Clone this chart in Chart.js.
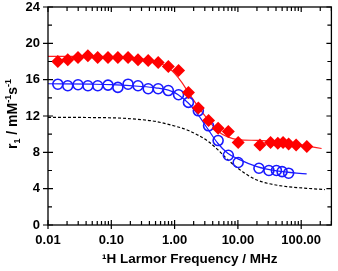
<!DOCTYPE html>
<html>
<head>
<meta charset="utf-8">
<script src="https://cdn.jsdelivr.net/npm/chart.js@4.4.1/dist/chart.umd.min.js"></script>
<style>
  html, body { margin: 0; padding: 0; background: #fff; }
  #wrap { width: 338px; height: 271px; }
</style>
</head>
<body>
<div id="wrap"><canvas id="myChart" width="338" height="271"></canvas></div>
<script>
// measured points (MHz, r1)
var redFreq = [0.0143, 0.0205, 0.0298, 0.0427, 0.061, 0.0887, 0.127, 0.184, 0.264, 0.383, 0.55, 0.796, 1.155, 1.655, 2.37, 3.44, 4.87, 7.06, 10.1, 22.3, 32.8, 42.7, 51.7, 63.3, 83.2, 122.6];
var redR1 = [18.0, 18.2, 18.45, 18.64, 18.45, 18.45, 18.45, 18.45, 18.2, 18.1, 17.9, 17.46, 17.0, 14.6, 12.87, 11.5, 10.66, 10.3, 9.08, 8.82, 9.08, 9.0, 9.08, 8.93, 8.82, 8.64];

var blueFreq = [0.0143, 0.0205, 0.0298, 0.0427, 0.061, 0.0887, 0.127, 0.184, 0.264, 0.383, 0.55, 0.796, 1.155, 1.655, 2.37, 3.44, 4.87, 7.06, 10.1, 21.5, 30.9, 40.6, 49.9, 63.3];
var blueR1 = [15.5, 15.33, 15.44, 15.33, 15.33, 15.4, 15.15, 15.5, 15.33, 15.0, 15.0, 14.8, 14.34, 13.5, 12.57, 10.92, 9.3, 7.68, 6.88, 6.25, 6.0, 6.0, 5.88, 5.7];

// fitted curves
var redFitFreq = [0.01, 0.05, 0.1, 0.2, 0.3, 0.5, 0.75, 1.0, 1.3, 1.65, 2.37, 3.4, 4.8, 6.9, 10, 20, 30, 60, 120, 210];
var redFitR1 = [18.57, 18.56, 18.54, 18.45, 18.3, 18.0, 17.45, 16.7, 15.7, 14.6, 13.0, 11.55, 10.35, 9.7, 9.4, 9.32, 9.26, 9.08, 8.72, 8.42];

var blueFitFreq = [0.01, 0.05, 0.1, 0.3, 0.5, 0.8, 1.14, 1.66, 2.37, 3.4, 4.8, 6.9, 10, 20, 41, 122];
var blueFitR1 = [15.55, 15.5, 15.45, 15.25, 15.1, 14.85, 14.35, 13.4, 12.1, 10.5, 9.0, 7.9, 7.28, 6.43, 5.96, 5.62];

var dashFreq = [0.01, 0.1, 0.3, 0.5, 1.0, 1.66, 3.4, 4.8, 6.9, 10, 14.2, 20, 29, 59, 122, 237];
var dashR1 = [11.85, 11.8, 11.6, 11.4, 10.9, 10.4, 9.2, 8.3, 7.2, 6.25, 5.5, 4.96, 4.6, 4.23, 4.04, 3.9];

var xTicks = [0.01, 0.1, 1, 10, 100];
var yTicks = [0, 4, 8, 12, 16, 20, 24];

function toXY(xs, ys) {
  var out = [];
  for (var i = 0; i < xs.length; i++) out.push({x: xs[i], y: ys[i]});
  return out;
}

var FONT = "'Liberation Sans', Arial, 'DejaVu Sans', sans-serif";

// frame + inward/crossing tick marks
var framePlugin = {
  id: 'frame',
  afterDraw: function(chart) {
    var ctx = chart.ctx, a = chart.chartArea;
    var xs = chart.scales.x, ys = chart.scales.y;
    ctx.save();
    ctx.strokeStyle = '#000';
    ctx.lineWidth = 1.3;
    ctx.strokeRect(a.left, a.top, a.right - a.left, a.bottom - a.top);
    ctx.lineWidth = 1.2;
    ctx.beginPath();
    // y major + minor
    for (var v = 0; v <= 24; v += 2) {
      var py = ys.getPixelForValue(v);
      var major = v % 4 === 0;
      ctx.moveTo(a.left - (major ? 5 : 0), py);
      ctx.lineTo(a.left + (major ? 5 : 4), py);
      ctx.moveTo(a.right, py);
      ctx.lineTo(a.right - (major ? 5 : 4), py);
    }
    // x log ticks
    for (var d = -2; d <= 2; d++) {
      for (var m = 1; m <= 9; m++) {
        var val = m * Math.pow(10, d);
        if (val > xs.max) break;
        var px = xs.getPixelForValue(val);
        var isMajor = m === 1;
        ctx.moveTo(px, a.bottom + (isMajor ? 4 : 0));
        ctx.lineTo(px, a.bottom - (isMajor ? 5 : 4));
        ctx.moveTo(px, a.top);
        ctx.lineTo(px, a.top + (isMajor ? 5 : 4));
      }
    }
    ctx.stroke();
    ctx.restore();
  }
};

// y title with real sub/superscripts: r1 / mM-1 s-1
var yTitlePlugin = {
  id: 'ytitle',
  afterDraw: function(chart) {
    var ctx = chart.ctx, a = chart.chartArea;
    var big = 'bold 14px ' + FONT, small = 'bold 9px ' + FONT;
    var parts = [
      {t: 'r', f: big, dy: 0},
      {t: '1', f: small, dy: 3},
      {t: ' / mM', f: big, dy: 0},
      {t: '-1', f: small, dy: -6},
      {t: 's', f: big, dy: 0},
      {t: '-1', f: small, dy: -6}
    ];
    ctx.save();
    var total = 0;
    parts.forEach(function(p) { ctx.font = p.f; p.w = ctx.measureText(p.t).width; total += p.w; });
    ctx.translate(17, (a.top + a.bottom) / 2 - 2);
    ctx.rotate(-Math.PI / 2);
    ctx.fillStyle = '#000';
    ctx.textBaseline = 'alphabetic';
    var x = -total / 2;
    parts.forEach(function(p) {
      ctx.font = p.f;
      ctx.fillText(p.t, x, p.dy);
      x += p.w;
    });
    ctx.restore();
  }
};

var ctx = document.getElementById('myChart').getContext('2d');
new Chart(ctx, {
  type: 'scatter',
  data: {
    datasets: [
      {
        label: 'red',
        data: toXY(redFreq, redR1),
        pointStyle: 'rectRot',
        pointRadius: 6.5,
        backgroundColor: '#ff0000',
        borderColor: '#ff0000',
        borderWidth: 0,
        order: 0
      },
      {
        label: 'blue',
        data: toXY(blueFreq, blueR1),
        pointStyle: 'circle',
        pointRadius: 5,
        backgroundColor: 'rgba(0,0,0,0)',
        borderColor: '#1a1aff',
        borderWidth: 1.6,
        order: 0
      },
      {
        label: 'red fit',
        data: toXY(redFitFreq, redFitR1),
        showLine: true,
        pointRadius: 0,
        borderColor: '#ff2020',
        borderWidth: 1.2,
        cubicInterpolationMode: 'monotone',
        order: 1
      },
      {
        label: 'blue fit',
        data: toXY(blueFitFreq, blueFitR1),
        showLine: true,
        pointRadius: 0,
        borderColor: '#1a1aff',
        borderWidth: 1.2,
        cubicInterpolationMode: 'monotone',
        order: 1
      },
      {
        label: 'dashed',
        data: toXY(dashFreq, dashR1),
        showLine: true,
        pointRadius: 0,
        borderColor: '#000',
        borderWidth: 1.2,
        borderDash: [3, 2],
        cubicInterpolationMode: 'monotone',
        order: 1
      }
    ]
  },
  options: {
    responsive: false,
    animation: false,
    layout: { padding: { top: 7, right: 3, left: 0, bottom: 4 } },
    plugins: { legend: { display: false }, tooltip: { enabled: false } },
    scales: {
      x: {
        type: 'logarithmic',
        min: 0.01,
        max: 300,
        grid: { display: false, drawTicks: false },
        border: { display: false },
        afterBuildTicks: function(scale) {
          scale.ticks = xTicks.map(function(v) { return {value: v}; });
        },
        afterFit: function(scale) {
          scale.height = 42;
          scale.paddingLeft = 0;
          scale.paddingRight = 0;
        },
        ticks: {
          autoSkip: false,
          maxRotation: 0,
          padding: 8,
          color: '#000',
          font: { family: FONT, size: 13, weight: 'bold' },
          callback: function(v) { return Number(v).toFixed(2); }
        },
        title: {
          display: true,
          text: '\u00b9H Larmor Frequency / MHz',
          color: '#000',
          padding: { top: 2, bottom: 0 },
          font: { family: FONT, size: 13.5, weight: 'bold' }
        }
      },
      y: {
        min: 0,
        max: 24,
        grid: { display: false, drawTicks: false },
        border: { display: false },
        afterBuildTicks: function(scale) {
          scale.ticks = yTicks.map(function(v) { return {value: v}; });
        },
        afterFit: function(scale) {
          scale.width = 48;
          scale.paddingTop = 0;
          scale.paddingBottom = 0;
        },
        ticks: {
          padding: 8,
          color: '#000',
          font: { family: FONT, size: 13, weight: 'bold' }
        }
      }
    }
  },
  plugins: [framePlugin, yTitlePlugin]
});
</script>
</body>
</html>
